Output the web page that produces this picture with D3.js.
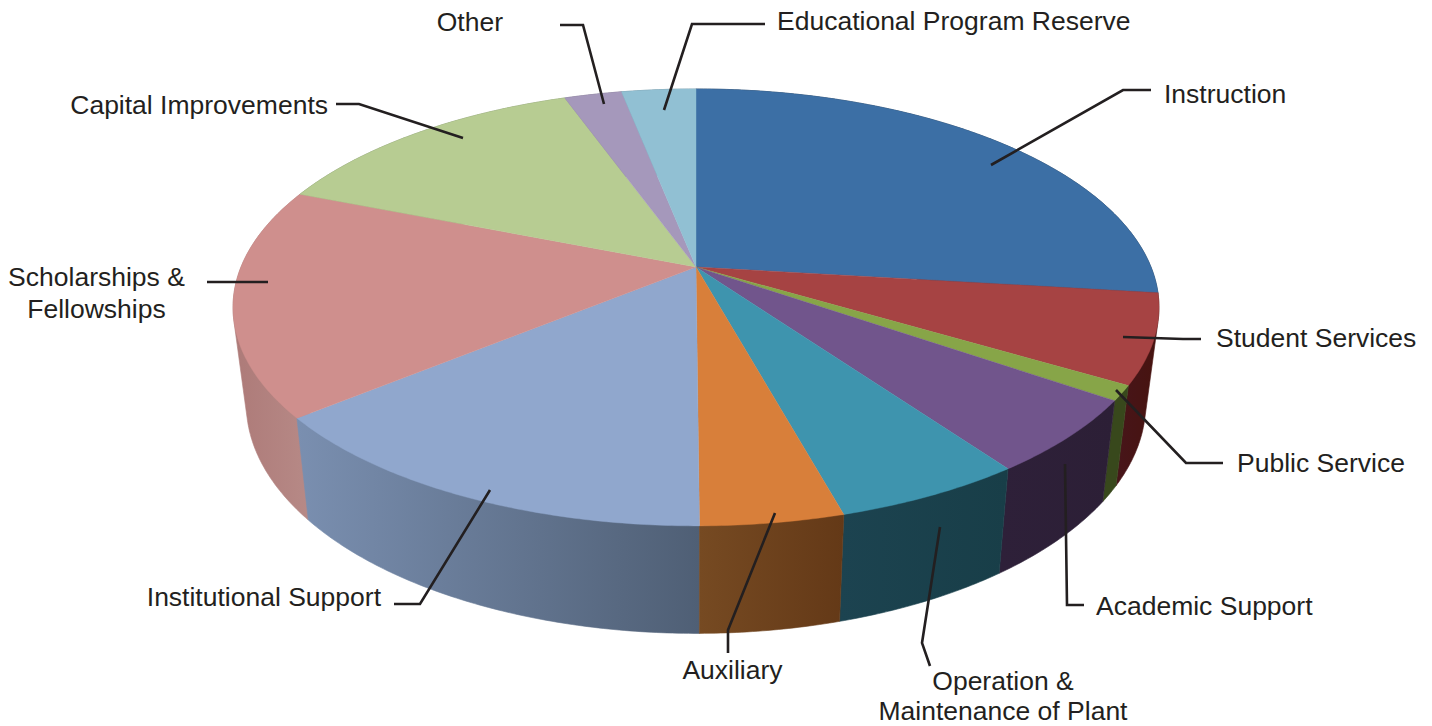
<!DOCTYPE html>
<html>
<head>
<meta charset="utf-8">
<script src="https://d3js.org/d3.v7.min.js"></script>
<style>
  html, body { margin: 0; padding: 0; background: #fff; }
  text { font-family: "Liberation Sans", Arial, sans-serif; font-size: 26.5px; fill: #231f20; }
</style>
</head>
<body>
<div id="chart"></div>
<script>
// share of the budget, clockwise from 12 o'clock
var categories = ["Instruction", "Student Services", "Public Service", "Academic Support",
  "Operation & Maintenance of Plant", "Auxiliary", "Institutional Support",
  "Scholarships & Fellowships", "Capital Improvements", "Other", "Educational Program Reserve"];
var values = [26.9, 6.6, 1.1, 5.5, 5.6, 4.2, 14.2, 16.9, 13.5, 2.4, 3.1];

var topColors = ["#3c6fa5", "#a64343", "#87a548", "#71558c", "#3e94ae", "#d87f3a",
  "#90a7cd", "#cf8f8d", "#b7cc92", "#a598bb", "#91c0d3"];
var wallLeft = ["#1f3a57", "#47151a", "#38481c", "#2e2039", "#1c4350", "#764a22",
  "#7a8fb0", "#ad7a78", "#7e8f66", "#736a83", "#658693"];
var wallRight = ["#1f3a57", "#47130f", "#38481c", "#2c1f36", "#183e48", "#643917",
  "#4f5f75", "#b78a87", "#7e8f66", "#736a83", "#658693"];

var labelLines = [["Instruction"], ["Student Services"], ["Public Service"], ["Academic Support"],
  ["Operation &", "Maintenance of Plant"], ["Auxiliary"], ["Institutional Support"],
  ["Scholarships &", "Fellowships"], ["Capital Improvements"], ["Other"], ["Educational Program Reserve"]];

// annotation layout, same order as categories
var labelPos = [[1164, 103, "start"], [1216, 347, "start"], [1237, 472, "start"], [1096, 615, "start"],
  [1003, 690, "middle"], [732.5, 679, "middle"], [381, 606, "end"], [96.5, 286, "middle"],
  [328, 114, "end"], [503, 31, "end"], [777, 30, "start"]];
var leaders = [
  [[991, 165], [1123, 90], [1151, 90]],
  [[1123, 337], [1183, 339], [1201, 339]],
  [[1116, 390], [1186, 463], [1223, 463]],
  [[1065, 464], [1067, 605], [1084, 605]],
  [[940, 527], [922, 643], [930, 666]],
  [[775, 513], [728, 630], [728, 653]],
  [[490, 490], [420, 604], [394, 604]],
  [[268, 282], [207, 282]],
  [[463, 138], [359, 104], [336, 104]],
  [[604, 104], [583, 25], [560, 25]],
  [[664, 110], [692, 24], [765, 24]]
];

var width = 1432, height = 726;
var tilt = 0.185; // perspective foreshortening of the disc

// disc projections: angle clockwise from top, r in 0..1
function project(disc, angle, r) {
  var u = r * Math.sin(angle), v = -r * Math.cos(angle), w = 1 - tilt * v;
  return [disc.cx + disc.a * u / w, disc.cy + disc.b * v / w];
}
var topDisc = {cx: 696, cy: 267, a: 455, b: 211};
var baseDisc = {cx: 696, cy: 361, a: 442, b: 222};

var arcs = d3.pie().sort(null)(values);
var line = d3.line();

function rim(disc, d) {
  var n = Math.max(2, Math.ceil((d.endAngle - d.startAngle) / 0.01));
  return d3.range(n + 1).map(function(i) {
    return project(disc, d.startAngle + (d.endAngle - d.startAngle) * i / n, 1);
  });
}

// how far a slice's middle sits from the front of the disc
function backness(d) {
  return Math.abs((d.startAngle + d.endAngle) / 2 - Math.PI);
}

var svg = d3.select("#chart").append("svg")
    .attr("width", width)
    .attr("height", height)
    .style("display", "block");

var defs = svg.append("defs");

// side walls first, top faces cover whatever faces away
// hull of both rims fills the silhouette between them on the far left and right,
// painted back to front so a hull never lands on a wall nearer the viewer
arcs.slice().sort(function(a, b) { return backness(b) - backness(a); }).forEach(function(d) {
  var i = d.index;
  var pts = rim(topDisc, d).concat(rim(baseDisc, d));
  var xs = pts.map(function(p) { return p[0]; });
  var grad = defs.append("linearGradient")
      .attr("id", "wall" + i)
      .attr("gradientUnits", "userSpaceOnUse")
      .attr("x1", d3.min(xs)).attr("x2", d3.max(xs))
      .attr("y1", 0).attr("y2", 0);
  grad.append("stop").attr("offset", 0).attr("stop-color", wallLeft[i]);
  grad.append("stop").attr("offset", 1).attr("stop-color", wallRight[i]);
  svg.append("path")
      .attr("d", line(d3.polygonHull(pts)) + "Z")
      .attr("fill", "url(#wall" + i + ")")
      .attr("stroke", "url(#wall" + i + ")")
      .attr("stroke-width", 0.6);
});

svg.append("g")
  .selectAll("path")
  .data(arcs)
  .enter().append("path")
    .attr("d", function(d) { return line([project(topDisc, 0, 0)].concat(rim(topDisc, d))) + "Z"; })
    .attr("fill", function(d, i) { return topColors[i]; })
    .attr("stroke", function(d, i) { return topColors[i]; })
    .attr("stroke-width", 0.4);

svg.append("g")
  .selectAll("path")
  .data(leaders)
  .enter().append("path")
    .attr("d", line)
    .attr("fill", "none")
    .attr("stroke", "#231f20")
    .attr("stroke-width", 2.6);

var label = svg.append("g")
  .selectAll("text")
  .data(labelLines)
  .enter().append("text")
    .attr("text-anchor", function(d, i) { return labelPos[i][2]; })
    .attr("data-category", function(d, i) { return categories[i]; });

label.selectAll("tspan")
  .data(function(d, i) { return d.map(function(t) { return {t: t, i: i}; }); })
  .enter().append("tspan")
    .attr("x", function(d) { return labelPos[d.i][0]; })
    .attr("y", function(d, j) { return labelPos[d.i][1] + j * (d.i === 4 ? 30 : 32); })
    .text(function(d) { return d.t; });
</script>
</body>
</html>
